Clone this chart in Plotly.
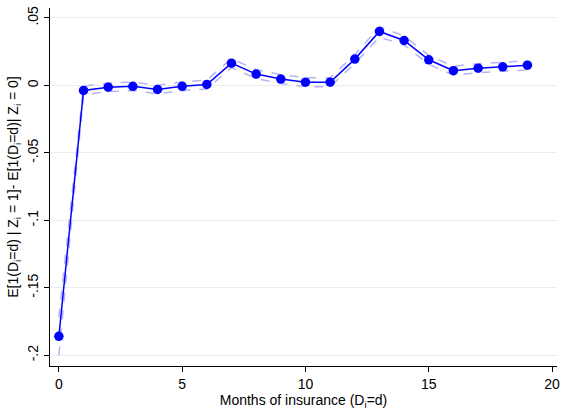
import plotly.graph_objects as go

months = list(range(20))
effect = [-0.186, -0.0037, -0.0013, -0.0007, -0.003, -0.0007, 0.0007, 0.0165, 0.0084, 0.0047,
          0.0024, 0.0024, 0.0195, 0.040, 0.0333, 0.019, 0.0109, 0.0128, 0.0138, 0.015]
upper = [-0.172, -0.0005, 0.0018, 0.0025, 0.0002, 0.0025, 0.004, 0.0198, 0.0117, 0.008,
         0.0057, 0.0057, 0.0228, 0.0435, 0.0366, 0.0223, 0.0142, 0.0161, 0.0171, 0.0185]
lower = [-0.200, -0.0069, -0.0045, -0.0039, -0.0062, -0.0039, -0.0026, 0.0132, 0.0051, 0.0014,
         -0.0009, -0.0009, 0.0162, 0.0358, 0.03, 0.0157, 0.0076, 0.0095, 0.0105, 0.0115]
ytick_vals = [0.05, 0, -0.05, -0.1, -0.15, -0.2]
ytick_text = [".05", "0", "-.05", "-.1", "-.15", "-.2"]
xtick_vals = [0, 5, 10, 15, 20]

fig = go.Figure()
ci_color = "#b4b4f6"
fig.add_trace(go.Scatter(x=months, y=upper, mode="lines",
                         line=dict(color=ci_color, width=1.5, dash="dash"), showlegend=False))
fig.add_trace(go.Scatter(x=months, y=lower, mode="lines",
                         line=dict(color=ci_color, width=1.5, dash="dash"), showlegend=False))
fig.add_trace(go.Scatter(x=months, y=effect, mode="lines+markers",
                         line=dict(color="#0000ff", width=1.5),
                         marker=dict(color="#0000ff", size=9.5), showlegend=False))

fig.update_layout(
    width=566, height=410,
    margin=dict(l=50, r=6, t=8, b=44),
    plot_bgcolor="white", paper_bgcolor="white",
    font=dict(family="Liberation Sans, Arial, sans-serif", size=14, color="black"),
)
fig.update_xaxes(range=[-0.36, 20.2], tickvals=xtick_vals, ticks="outside", ticklen=5,
                 tickcolor="black", showline=True, linecolor="black", linewidth=1,
                 showgrid=False, zeroline=False,
                 title=dict(text="Months of insurance (D<sub>i</sub>=d)", standoff=1, font=dict(size=14)))
fig.update_yaxes(range=[-0.208, 0.0574], tickvals=ytick_vals, ticktext=ytick_text,
                 tickangle=-90, ticks="outside", ticklen=5, tickcolor="black",
                 showline=True, linecolor="black", linewidth=1,
                 showgrid=True, gridcolor="#e6eef0", gridwidth=1, zeroline=False,
                 title=dict(text="E[1(D<sub>i</sub>=d) | Z<sub>i</sub> = 1]- E[1(D<sub>i</sub>=d)| Z<sub>i</sub> = 0]",
                            standoff=3, font=dict(size=14)))

fig.write_html("out.html", config={"displayModeBar": False},
               post_script="document.body.style.margin='0';document.body.style.overflow='hidden';")
